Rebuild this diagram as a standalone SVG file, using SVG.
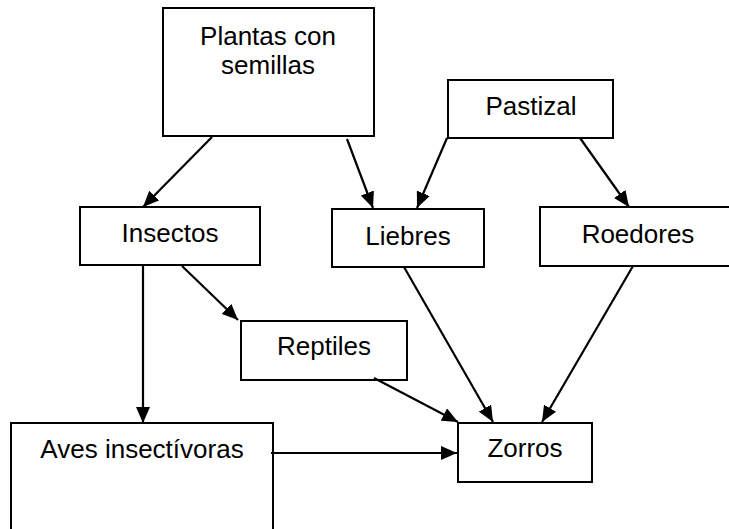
<svg xmlns="http://www.w3.org/2000/svg" width="729" height="529" viewBox="0 0 729 529">
<style>
.box{fill:#fff;stroke:#000;stroke-width:2}
.lbl{font-family:"Liberation Sans",Arial,sans-serif;font-size:26px;fill:#000;text-anchor:middle}
.edge{stroke:#000;stroke-width:2.2;fill:none;marker-end:url(#ah)}
</style>
<defs>
<marker id="ah" markerUnits="userSpaceOnUse" markerWidth="18" markerHeight="14" refX="16" refY="7" orient="auto">
<path d="M0,0 L16,7 L0,14 Z" fill="#000"/>
</marker>
</defs>
<rect width="729" height="529" fill="#fff"/>
<g id="plantas"><rect class="box" x="163" y="8" width="211" height="128"/><text class="lbl" x="268" y="45">Plantas con</text><text class="lbl" x="268" y="74">semillas</text></g>
<g id="pastizal"><rect class="box" x="448" y="80" width="165" height="58"/><text class="lbl" x="531" y="115">Pastizal</text></g>
<g id="insectos"><rect class="box" x="80" y="207" width="180" height="58"/><text class="lbl" x="170" y="242">Insectos</text></g>
<g id="liebres"><rect class="box" x="332" y="209" width="152" height="58"/><text class="lbl" x="408" y="245">Liebres</text></g>
<g id="roedores"><rect class="box" x="540" y="207" width="200" height="59"/><text class="lbl" x="638" y="243">Roedores</text></g>
<g id="reptiles"><rect class="box" x="241" y="321" width="166" height="59"/><text class="lbl" x="324" y="355">Reptiles</text></g>
<g id="aves"><rect class="box" x="11" y="423" width="262" height="120"/><text class="lbl" x="142" y="458">Aves insectívoras</text></g>
<g id="zorros"><rect class="box" x="458" y="423" width="134" height="59"/><text class="lbl" x="525" y="457">Zorros</text></g>
<g id="connectors">
<line class="edge" x1="212" y1="137" x2="143" y2="207"/>
<line class="edge" x1="347" y1="139" x2="373" y2="208"/>
<line class="edge" x1="447" y1="138" x2="417" y2="208"/>
<line class="edge" x1="580" y1="138" x2="629" y2="207"/>
<line class="edge" x1="182" y1="266" x2="238" y2="320"/>
<line class="edge" x1="143" y1="266" x2="143" y2="423"/>
<line class="edge" x1="404" y1="267" x2="493" y2="422"/>
<line class="edge" x1="633" y1="266" x2="542" y2="422"/>
<line class="edge" x1="374" y1="378" x2="458" y2="422"/>
<line class="edge" x1="271" y1="453" x2="457" y2="453"/>
</g>
</svg>
